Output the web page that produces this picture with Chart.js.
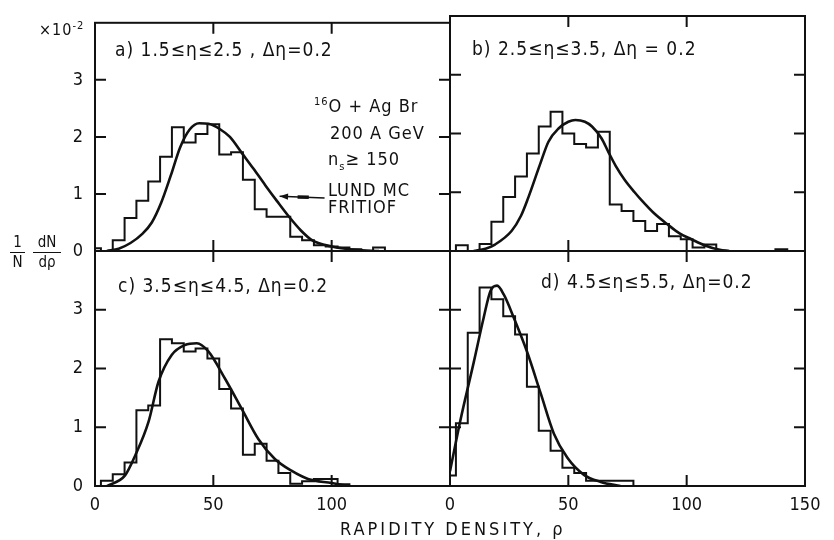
<!DOCTYPE html>
<html lang="en">
<head>
<meta charset="UTF-8">
<title>Rapidity density distributions</title>
<script src="https://cdn.jsdelivr.net/npm/chart.js@4.4.0/dist/chart.umd.min.js"></script>
<style>
    body { margin: 0; background: #fff; }
    #wrap {
        position: relative;
        width: 834px;
        height: 540px;
        font-family: 'DejaVu Sans Condensed', 'DejaVu Sans', sans-serif;
        color: #111;
    }
    #wrap canvas { position: absolute; left: 0; top: 0; }
    .lbl { position: absolute; white-space: nowrap; line-height: 1; font-size: 18px; letter-spacing: 1px; }
    .lbl sup, .lbl sub { font-size: 11px; }
    .frac { position: absolute; text-align: center; font-size: 14px; line-height: 1; }
    .frac .num { display: block; padding-bottom: 2px; border-bottom: 1.5px solid #111; }
    .frac .den { display: block; padding-top: 2px; }
</style>
</head>
<body>
<div id="wrap">
    <canvas id="panelA" width="834" height="540"></canvas>
    <canvas id="panelB" width="834" height="540"></canvas>
    <canvas id="panelC" width="834" height="540"></canvas>
    <canvas id="panelD" width="834" height="540"></canvas>

    <div class="lbl" style="left:39px; top:20px; font-size:16px;">×10<sup>-2</sup></div>

    <div class="lbl" style="left:115px; top:40px; font-size:19px;">a) 1.5≤η≤2.5 , Δη=0.2</div>
    <div class="lbl" style="left:472px; top:39px; font-size:19px;">b) 2.5≤η≤3.5, Δη = 0.2</div>
    <div class="lbl" style="left:118px; top:276px; font-size:19px;">c) 3.5≤η≤4.5, Δη=0.2</div>
    <div class="lbl" style="left:541px; top:272px; font-size:19px;">d) 4.5≤η≤5.5, Δη=0.2</div>

    <div class="lbl" style="left:314px; top:96px;"><sup>16</sup>O + Ag Br</div>
    <div class="lbl" style="left:330px; top:124px;">200 A GeV</div>
    <div class="lbl" style="left:328px; top:150px;">n<sub>s</sub>≥ 150</div>
    <div class="lbl" style="left:328px; top:181px;">LUND MC</div>
    <div class="lbl" style="left:328px; top:198px;">FRITIOF</div>

    <div class="frac" style="left:10px; top:235px; width:15px; font-size:15px;"><span class="num">1</span><span class="den">N</span></div>
    <div class="frac" style="left:33px; top:235px; width:28px; font-size:15px;"><span class="num">dN</span><span class="den">dρ</span></div>

    <div class="lbl" style="left:340px; top:520px; letter-spacing:3px;">RAPIDITY DENSITY, ρ</div>
</div>

<script>
    // histogram bins are 5 units wide, centred on 0, 5, 10, ...
    const binWidth = 5;

    // a) 1.5 <= eta <= 2.5
    const histA = [0.05, 0, 0.19, 0.58, 0.88, 1.22, 1.65, 2.17, 1.90, 2.05, 2.22, 1.69, 1.73,
                   1.25, 0.73, 0.60, 0.60, 0.25, 0.19, 0.10, 0.08, 0.06, 0.03, 0, 0.06];
    const curveA = [[5, 0], [10, 0.04], [15, 0.14], [20, 0.3], [24, 0.5], [28, 0.85], [32, 1.32],
                    [36, 1.82], [40, 2.13], [44, 2.24], [48, 2.23], [53, 2.13], [57, 2.0],
                    [62, 1.72], [67, 1.44], [72, 1.15], [77, 0.87], [82, 0.6], [87, 0.36], [92, 0.18],
                    [100, 0.08], [110, 0.02], [120, 0]];

    // b) 2.5 <= eta <= 3.5
    const histB = [0, 0.10, 0, 0.12, 0.50, 0.92, 1.27, 1.66, 2.12, 2.37, 2.00, 1.82, 1.76, 2.03,
                   0.79, 0.68, 0.51, 0.34, 0.46, 0.25, 0.20, 0.06, 0.11, 0, 0, 0, 0, 0, 0.03];
    const curveB = [[10, 0], [15, 0.04], [19, 0.11], [26, 0.34], [30, 0.6], [33, 0.9], [38, 1.47],
                    [41.6, 1.86], [46, 2.09], [50, 2.2], [53, 2.23], [57, 2.2], [60, 2.12], [64, 1.92],
                    [67, 1.68], [70, 1.45], [74, 1.2], [78, 1.0], [81, 0.86], [86, 0.65], [92, 0.45],
                    [97, 0.3], [102, 0.2], [108, 0.09], [114, 0.02], [118, 0]];

    // c) 3.5 <= eta <= 4.5
    const histC = [0, 0.09, 0.20, 0.40, 1.29, 1.37, 2.50, 2.43, 2.29, 2.34, 2.17, 1.65, 1.32,
                   0.53, 0.72, 0.43, 0.22, 0.04, 0.08, 0.12, 0.12, 0.03];
    const curveC = [[5, 0], [12.7, 0.18], [17, 0.52], [22.6, 1.09], [26.8, 1.77], [32.4, 2.23],
                    [38, 2.4], [43, 2.43], [47.9, 2.29], [54.9, 1.83], [61.9, 1.32], [69, 0.8],
                    [76, 0.46], [83, 0.26], [90, 0.12], [100, 0.05], [107, 0]];

    // d) 4.5 <= eta <= 5.5
    const histD = [0.18, 1.07, 2.61, 3.38, 3.18, 2.89, 2.58, 1.69, 0.94, 0.60, 0.31, 0.22,
                   0.09, 0.09, 0.09, 0.09];
    const curveD = [[0, 0.25], [4.4, 1.12], [10, 2.1], [14.2, 2.86], [17.1, 3.32], [19.9, 3.41],
                    [22.7, 3.26], [27, 2.86], [32.6, 2.28], [38.3, 1.58], [43.9, 0.89], [49.6, 0.48],
                    [56.6, 0.19], [63.7, 0.07], [72, 0]];

    const xTicks = [0, 50, 100, 150];
    const yTicks = [0, 1, 2, 3];

    // LUND MC arrow in panel a: tail and tip in data units
    const arrowTail = [97, 0.93];
    const arrowTip = [78, 0.96];

    const INK = '#111';
    const FONT = "'DejaVu Sans Condensed', 'DejaVu Sans', sans-serif";
    const TICK = 11;

    // outline points: each bin's value holds from its left edge to its right edge
    function histPoints(values) {
        const pts = [{x: -binWidth / 2, y: 0}];
        values.forEach((v, i) => {
            const left = i * binWidth - binWidth / 2;
            pts.push({x: left, y: v});
            pts.push({x: left + binWidth, y: v});
        });
        pts.push({x: values.length * binWidth - binWidth / 2, y: 0});
        return pts;
    }

    const framePlugin = {
        id: 'frame',
        afterDatasetsDraw(chart, args, opts) {
            const {ctx, chartArea: a, scales: {x, y}} = chart;
            ctx.save();
            ctx.strokeStyle = INK;
            ctx.lineWidth = 2;
            ctx.strokeRect(a.left, a.top, a.right - a.left, a.bottom - a.top);
            ctx.beginPath();
            yTicks.slice(1).forEach(v => {
                const py = y.getPixelForValue(v);
                ctx.moveTo(a.left, py); ctx.lineTo(a.left + TICK, py);
                ctx.moveTo(a.right, py); ctx.lineTo(a.right - TICK, py);
            });
            xTicks.slice(1, -1).forEach(v => {
                const px = x.getPixelForValue(v);
                ctx.moveTo(px, a.top); ctx.lineTo(px, a.top + TICK);
                ctx.moveTo(px, a.bottom); ctx.lineTo(px, a.bottom - TICK);
            });
            ctx.stroke();

            if (opts.arrow) {
                const [t0, t1] = opts.arrow;
                const x0 = x.getPixelForValue(t0[0]), y0 = y.getPixelForValue(t0[1]);
                const x1 = x.getPixelForValue(t1[0]), y1 = y.getPixelForValue(t1[1]);
                const ang = Math.atan2(y1 - y0, x1 - x0);
                ctx.lineWidth = 1.5;
                ctx.beginPath();
                ctx.moveTo(x0, y0); ctx.lineTo(x1, y1);
                ctx.stroke();
                ctx.beginPath();
                ctx.moveTo(x1, y1);
                ctx.lineTo(x1 - 9 * Math.cos(ang - 0.35), y1 - 9 * Math.sin(ang - 0.35));
                ctx.lineTo(x1 - 9 * Math.cos(ang + 0.35), y1 - 9 * Math.sin(ang + 0.35));
                ctx.closePath();
                ctx.fillStyle = INK;
                ctx.fill();
                // thick middle part of the arrow shaft
                const mx = x0 + (x1 - x0) * 0.35, my = y0 + (y1 - y0) * 0.35;
                ctx.lineWidth = 3.5;
                ctx.beginPath();
                ctx.moveTo(mx, my); ctx.lineTo(mx + (x1 - x0) * 0.25, my + (y1 - y0) * 0.25);
                ctx.stroke();
            }
            ctx.restore();
        }
    };

    // area: [left, top, right, bottom] of the plot in page pixels
    function makePanel(id, hist, curve, area, showY, showX, xLabels, arrow) {
        const yW = showY ? 40 : 0;
        const xH = showX ? 32 : 0;
        new Chart(document.getElementById(id), {
            type: 'line',
            data: {
                datasets: [{
                    data: histPoints(hist),
                    borderColor: INK,
                    borderWidth: 2,
                    borderJoinStyle: 'miter',
                    pointRadius: 0,
                    tension: 0,
                    fill: false
                }, {
                    data: curve.map(p => ({x: p[0], y: p[1]})),
                    cubicInterpolationMode: 'monotone',
                    borderColor: INK,
                    borderWidth: 2.6,
                    pointRadius: 0,
                    fill: false
                }]
            },
            options: {
                responsive: false,
                animation: false,
                events: [],
                layout: {
                    padding: {left: area[0] - yW, top: area[1], right: 834 - area[2], bottom: 540 - area[3] - xH}
                },
                plugins: {
                    legend: {display: false},
                    tooltip: {enabled: false},
                    frame: {arrow: arrow}
                },
                scales: {
                    x: {
                        type: 'linear',
                        min: 0,
                        max: 150,
                        grid: {display: false, drawTicks: false},
                        border: {display: false},
                        ticks: {
                            display: showX,
                            stepSize: 50,
                            autoSkip: false,
                            maxRotation: 0,
                            padding: 9,
                            color: INK,
                            font: {family: FONT, size: 18},
                            callback: v => xLabels.includes(v) ? String(v) : ''
                        },
                        afterFit(s) { s.height = xH; }
                    },
                    y: {
                        min: 0,
                        max: 4,
                        grid: {display: false, drawTicks: false},
                        border: {display: false},
                        ticks: {
                            display: showY,
                            stepSize: 1,
                            padding: 12,
                            color: INK,
                            font: {family: FONT, size: 18},
                            callback: v => yTicks.includes(v) ? String(v) : ''
                        },
                        afterFit(s) { s.width = yW; }
                    }
                }
            },
            plugins: [framePlugin]
        });
    }

    makePanel('panelA', histA, curveA, [95, 16, 450, 251], true, false, [], [arrowTail, arrowTip]);
    makePanel('panelB', histB, curveB, [450, 16, 805, 251], false, false, [], null);
    makePanel('panelC', histC, curveC, [95, 251, 450, 486], true, true, [0, 50, 100], null);
    makePanel('panelD', histD, curveD, [450, 251, 805, 486], false, true, [0, 50, 100, 150], null);
</script>
</body>
</html>
